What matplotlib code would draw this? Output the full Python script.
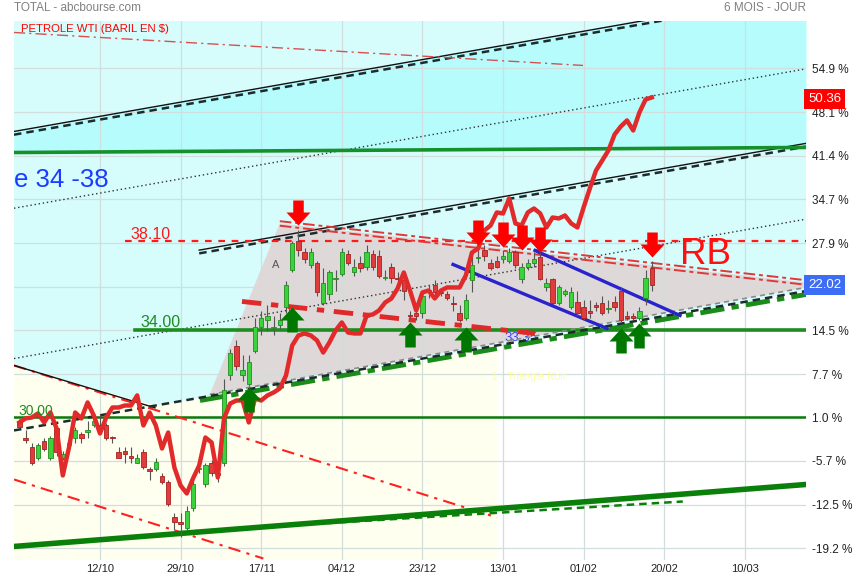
import numpy as np
import matplotlib
matplotlib.use('Agg')
import matplotlib.pyplot as plt
from matplotlib.path import Path
from matplotlib.markers import MarkerStyle
import matplotlib.transforms as mtransforms

plt.rcParams['font.family'] = ['Liberation Sans', 'DejaVu Sans']

# ---- data : % change, one candle per trading day ----
days = np.arange(1, 104)
opens = [0.5, -2.2, -3.6, -5.2, -2.6, -5.3, -0.7, -5.3, -3.3, -2.1,
         -1.6, -1.2, -0.2, -0.2, -0.2, -2.0, -4.4, -4.2, -4.9, -6.0,
         -4.3, -7.1, -7.0, -8.0, -9.0, -14.3, -15.2, -16.1, -12.9, -7.0,
         -9.3, -6.1, -7.5, -6.0, 7.5, 12.1, 7.5, 6.2, 11.3, 14.9,
         16.1, 14.8, 15.2, 18.0, 23.8, 28.3, 26.5, 24.6, 24.8, 18.6,
         20.1, 22.3, 23.2, 26.3, 23.4, 24.9, 24.3, 26.2, 26.0, 22.5,
         24.2, 22.5, 22.2, 16.8, 17.2, 17.1, 20.5, 21.4, 20.4, 20.1,
         18.6, 17.2, 16.3, 22.2, 25.6, 26.9, 24.8, 25.2, 25.5, 25.1,
         26.5, 22.3, 24.3, 24.8, 25.7, 21.1, 22.3, 18.6, 20.1, 18.1,
         18.9, 18.0, 17.5, 18.3, 18.6, 17.7, 18.9, 20.6, 16.7, 16.7,
         16.4, 19.5, 24.0]
highs = [0.8, -1.0, -3.0, -3.0, -2.1, -1.8, -0.5, -4.1, -2.6, -0.5,
         -1.3, 0.5, 0.8, 1.6, 0.1, -1.8, -3.6, -3.6, -3.5, -4.6,
         -3.9, -6.7, -5.3, -7.6, -8.7, -13.8, -13.7, -12.6, -8.7, -6.2,
         -6.0, -5.6, -6.4, 6.9, 11.5, 12.9, 10.6, 10.6, 16.3, 17.5,
         18.3, 16.7, 17.2, 22.1, 28.3, 29.9, 27.1, 27.1, 25.2, 24.0,
         23.7, 23.7, 27.1, 26.8, 25.5, 26.0, 27.6, 26.8, 26.8, 23.7,
         24.9, 23.4, 22.9, 17.5, 18.3, 20.6, 21.4, 22.2, 20.9, 20.6,
         19.8, 18.3, 20.1, 26.0, 26.8, 27.6, 25.5, 26.0, 26.8, 27.1,
         26.8, 24.9, 25.5, 26.5, 26.5, 22.5, 22.6, 21.5, 20.8, 21.1,
         20.6, 19.1, 19.1, 18.8, 19.8, 19.1, 19.8, 21.1, 17.5, 17.2,
         18.0, 23.7, 25.2]
lows = [-0.7, -2.9, -6.4, -5.6, -4.1, -5.6, -4.9, -5.6, -3.6, -3.0,
        -2.9, -2.1, -0.5, -1.5, -2.4, -2.9, -5.3, -6.1, -6.1, -6.1,
        -7.0, -8.7, -7.2, -9.2, -12.6, -16.4, -17.5, -16.4, -13.4, -7.6,
        -9.8, -8.0, -9.0, -6.5, 6.8, 8.3, 6.7, 5.9, 11.0, 13.7,
        14.4, 13.7, 14.7, 17.2, 23.4, 26.0, 24.9, 24.0, 19.8, 18.3,
        19.1, 20.6, 22.9, 24.5, 22.9, 23.4, 23.7, 23.7, 22.5, 22.2,
        21.8, 21.4, 19.1, 16.3, 16.0, 16.3, 19.5, 19.7, 19.7, 19.1,
        17.5, 15.7, 16.0, 20.3, 24.9, 25.2, 23.7, 24.0, 24.9, 24.8,
        24.0, 21.8, 23.7, 24.3, 22.2, 20.6, 18.3, 18.3, 19.7, 17.8,
        16.6, 16.0, 16.3, 17.5, 16.8, 17.2, 17.5, 15.7, 16.0, 16.1,
        16.0, 18.3, 20.6]
closes = [-0.4, -2.5, -6.0, -3.3, -3.8, -2.1, -4.4, -4.6, -3.0, -0.9,
          -2.1, -0.9, 0.5, -1.0, -2.1, -2.2, -5.2, -4.6, -5.2, -5.2,
          -6.7, -7.2, -5.8, -9.0, -12.3, -15.2, -15.5, -13.4, -9.2, -6.8,
          -6.3, -7.6, -7.9, 5.2, 11.0, 9.0, 8.3, 9.6, 15.0, 16.3,
          16.7, 15.0, 16.0, 21.4, 27.9, 26.8, 25.5, 26.6, 20.3, 21.8,
          23.4, 22.5, 26.6, 24.9, 24.2, 24.0, 26.6, 24.3, 22.8, 22.7,
          22.6, 22.4, 20.6, 16.6, 16.7, 19.8, 20.7, 20.3, 20.2, 19.5,
          18.5, 16.1, 19.2, 24.5, 25.7, 25.9, 24.0, 24.3, 25.9, 26.5,
          24.5, 24.3, 24.8, 25.5, 22.3, 21.7, 18.6, 21.1, 20.5, 20.3,
          17.1, 16.4, 17.1, 18.0, 17.2, 17.8, 18.0, 16.1, 16.4, 16.4,
          17.5, 22.6, 21.5]
# petrole WTI, same scale
wti = [0.23, 0.85, 1.0, 1.62, 0.23, 1.77, -0.70, -7.95, -3.63, 1.77,
       0.85, 3.32, 1.31, -1.47, 1.0, 2.54, 2.54, 2.85, 2.85, 4.40,
       -0.23, 1.77, -0.23, -3.79, -1.32, -6.72, -9.50, -10.73, -8.42, -6.41,
       -2.09, -2.86, -8.26, 0.85, 3.16, 3.62, 3.62, 0.23, 3.93, 3.62,
       4.40, 4.86, 5.48, 7.48, 12.11, 13.66, 13.97, 13.66, 12.89, 11.03,
       12.58, 14.43, 15.67, 14.12, 13.97, 13.97, 16.75, 16.90, 17.52, 18.75,
       19.37, 20.91, 23.38, 20.60, 17.52, 20.30, 20.60, 19.37, 20.60, 21.07,
       21.07, 21.07, 22.92, 26.47, 27.09, 29.87, 30.64, 32.65, 32.49, 34.81,
       30.95, 30.64, 32.65, 33.26, 32.49, 30.33, 31.87, 31.72, 32.18, 30.95,
       30.33, 33.42, 36.35, 39.13, 40.67, 42.22, 44.69, 45.92, 46.85, 45.30,
       48.08, 50.09, 50.40]

date_ticks = [14, 27, 40, 53, 66, 79, 92, 105, 118]
date_labels = ['12/10', '29/10', '17/11', '04/12', '23/12', '13/01', '01/02', '20/02', '10/03']
pct_ticks = [54.9, 48.1, 41.4, 34.7, 27.9, 21.2, 14.5, 7.7, 1.0, -5.7, -12.5, -19.2]
hidden_tick = 21.2   # label sits under the last-value tag

x_min, x_max = 0.13, 127.87
y_min, y_max = -21.0, 62.2

# horizontal levels
lvl_3810 = 28.2
lvl_3400 = 14.5
lvl_3000 = 1.0

# regression channel : value at x_min + slope per day
chan_slope = 0.1684
chan_top = 45.15
chan_up = 33.3
chan_mid = 21.8
chan_low = 10.1
chan_bot = -1.0

# trend lines (x0, y0, x1, y1)
wti_trend = (0.13, 60.43, 91.9, 55.34)
green_top = (0.13, 41.9, 127.87, 42.68)
tri_top = (43.0, 30.95, 127.87, 21.84)
tri_bot = (31.7, 4.55, 127.87, 21.07)
tri_inner = (36.9, 18.91, 84.16, 13.97)
tri_support = (30.13, 3.62, 127.87, 19.99)
blue1 = (70.94, 24.62, 95.77, 14.74)
blue2 = (84.16, 26.78, 107.55, 16.75)
down_hi = (0.13, 9.03, 78.03, -14.44)
down_lo = (0.13, -8.57, 40.35, -20.77)
base_green = (0.13, -18.91, 127.87, -9.34)
base_dash = (28.52, -16.6, 108.0, -11.97)

red_arrow_days = [46, 75, 79, 82, 85, 103]
red_arrow_tips = [30.7, 27.6, 27.3, 26.8, 26.5, 25.7]
green_arrow_days = [38, 45, 64, 73, 98, 101]
green_arrow_tips = [5.7, 18.0, 15.7, 14.9, 14.8, 15.6]

last_wti = 50.36
last_total = 22.02
tag_wti_y = 50.2
tag_total_y = 21.5


def chan(off, x):
    return off + chan_slope * (np.asarray(x) - x_min)


def seg(ax, ln, **kw):
    ax.plot([ln[0], ln[2]], [ln[1], ln[3]], **kw)


fig = plt.figure(figsize=(8.55, 5.8), dpi=100)
ax = fig.add_axes([14 / 855, 20 / 580, 792 / 855, 539 / 580])
ax.set_xlim(x_min, x_max)
ax.set_ylim(y_min, y_max)
ax.set_facecolor('white')
for s in ax.spines.values():
    s.set_visible(False)

# background zones
ax.fill_between([x_min, 78.03], y_min - 5, y_max + 5, color='#fffff0', lw=0, zorder=0.2)
xc = [x_min, x_max, x_max, 22.87, x_min]
yc = [y_max + 5, y_max + 5, chan(chan_bot, x_max), chan(chan_bot, 22.87), down_hi[1]]
ax.fill(xc, yc, color='#d6fcfc', lw=0, zorder=0.3)
xs = np.linspace(x_min, x_max, 50)
g_line = np.interp(xs, [green_top[0], green_top[2]], [green_top[1], green_top[3]])
ax.fill_between(xs, g_line, chan(chan_top, xs), color='#b6fcfc', lw=0, zorder=0.4)
tri_x = [tri_bot[0], tri_top[0], tri_top[2], tri_bot[2]]
tri_y = [tri_bot[1], tri_top[1], tri_top[3], tri_bot[3]]
ax.fill(tri_x, tri_y, color='#ded8d8', lw=0, zorder=0.5)

# grid
ax.set_xticks(date_ticks)
ax.set_xticklabels(date_labels)
ax.set_yticks(pct_ticks)
ax.set_yticklabels(['' if v == hidden_tick else '%.1f %%' % v for v in pct_ticks])
ax.yaxis.tick_right()
ax.tick_params(axis='both', length=0, labelsize=8.5, labelcolor='#222222')
ax.tick_params(axis='x', pad=3, labelsize=8)
ax.tick_params(axis='y', pad=4)
ax.grid(True, color='#d0dede', lw=0.9)

# regression channel
ax.plot([x_min, x_max], chan(chan_top, [x_min, x_max]), color='#111111', lw=1, zorder=3)
ax.plot([x_min, x_max], chan(chan_top - 0.5, [x_min, x_max]), color='#1c2c2c', lw=1.8,
        dashes=(3, 2), zorder=3)
ax.plot([30, x_max], chan(chan_mid, [30, x_max]), color='#111111', lw=1, zorder=3)
ax.plot([30, x_max], chan(chan_mid - 0.5, [30, x_max]), color='#1c2c2c', lw=1.8,
        dashes=(3, 2), zorder=3)
for off in (chan_up, chan_low):
    ax.plot([x_min, x_max], chan(off, [x_min, x_max]), color='#333333', lw=1,
            dashes=(1, 2), zorder=3)
ax.plot([x_min, x_max], chan(chan_bot, [x_min, x_max]), color='#1c2c2c', lw=1.8,
        dashes=(3, 2), zorder=3.2)

# horizontal levels
ax.plot([18.0, x_max], [lvl_3810, lvl_3810], color='#ff1a1a', lw=1.6, dashes=(3, 3), zorder=3)
ax.plot([19.6, x_max], [lvl_3400, lvl_3400], color='#1e8c1e', lw=2.6, zorder=3)
ax.plot([x_min, x_max], [lvl_3000, lvl_3000], color='#0a7a0a', lw=1.8, zorder=3)

# trend lines
seg(ax, wti_trend, color='#d85050', lw=1, dashes=(8, 3, 1.5, 3), zorder=3)
seg(ax, green_top, color='#15902a', lw=2.6, zorder=3)
seg(ax, down_hi, color='#ff2020', lw=1.5, dashes=(6, 3, 1.5, 3), zorder=3)
ax.plot([down_hi[0], 22.87], [down_hi[1], 2.5], color='#111111', lw=1, zorder=3.1)
seg(ax, down_lo, color='#ff2020', lw=1.5, dashes=(6, 3, 1.5, 3), zorder=3)
seg(ax, base_green, color='#0a800a', lw=4, zorder=3)
seg(ax, base_dash, color='#0a800a', lw=1.8, dashes=(3, 2), zorder=3)
seg(ax, tri_bot, color='#8a8a8a', lw=1.2, dashes=(3, 2.5), zorder=3)
seg(ax, tri_support, color='#1a8c1a', lw=3.5, dashes=(5, 1.5, 1.5, 1.5), zorder=3.1)
for d in (-0.35, 0.35):
    ax.plot([tri_top[0], tri_top[2]], [tri_top[1] + d, tri_top[3] + d], color='#e03838',
            lw=1.4, dashes=(6, 2, 2, 2), zorder=3)
seg(ax, tri_inner, color='#e02a2a', lw=3.5, dashes=(4, 2, 1.5, 2), zorder=3)
seg(ax, blue1, color='#2a22cc', lw=2.4, zorder=4)
seg(ax, blue2, color='#2a22cc', lw=2.4, zorder=4)

# candles
o = np.array(opens)
c = np.array(closes)
up = c >= o
ax.vlines(days, lows, highs, color='#555555', lw=0.8, zorder=5)
body = np.maximum(np.abs(c - o), 0.2)
bot = np.minimum(o, c)
ax.bar(days[up], body[up], bottom=bot[up], width=0.72, color='#3cd23c',
       edgecolor='#1f8f1f', lw=0.6, zorder=6)
ax.bar(days[~up], body[~up], bottom=bot[~up], width=0.72, color='#e03c3c',
       edgecolor='#a82020', lw=0.6, zorder=6)

# petrole WTI
ax.plot(days, wti, color='#e22a2a', lw=3.2, zorder=7)

# arrows
down_path = Path([(0, 0), (-0.48, 0.52), (-0.21, 0.52), (-0.21, 1), (0.21, 1),
                  (0.21, 0.52), (0.48, 0.52), (0, 0)],
                 [Path.MOVETO] + [Path.LINETO] * 6 + [Path.CLOSEPOLY])
up_path = Path(down_path.vertices * [1, -1], down_path.codes)
ax.plot(red_arrow_days, red_arrow_tips, ls='none', marker=MarkerStyle(down_path),
        ms=36, mfc='#ff0000', mec='none', zorder=9)
ax.plot(green_arrow_days, green_arrow_tips, ls='none', marker=MarkerStyle(up_path),
        ms=36, mfc='#007800', mec='none', zorder=9)

# texts
ax.text(1.2, 61.0, 'PETROLE WTI (BARIL EN $)', color='#ff0000', fontsize=8.2,
        va='center', zorder=10)
ax.text(0.2, 37.65, 'e 34 -38', color='#1a3cff', fontsize=18.5, ha='left',
        va='center', zorder=10)
ax.text(18.84, 29.3, '38.10', color='#ff1a1a', fontsize=11.5, va='center', zorder=10)
ax.text(20.45, 15.6, '34.00', color='#1e8c1e', fontsize=11.5, va='center', zorder=10)
ax.text(0.77, 2.0, '30.00', color='#1e8c1e', fontsize=10, va='center', zorder=10)
ax.text(107.55, 26.2, 'RB', color='#ff1010', fontsize=26.5, va='center', zorder=10)
ax.text(42.4, 24.5, 'A', color='#555555', fontsize=8, va='center', ha='center', zorder=10)
ax.text(79.3, 13.25, '33.35', color='#3c3cff', fontsize=9.5, va='center', zorder=2.9)
ax.text(77.2, 7.2, '1 - Triangle Noir', color='#ffff99', fontsize=7.5, va='center', zorder=10)

trans = mtransforms.blended_transform_factory(ax.transAxes, ax.transData)
ax.text(1.003, tag_wti_y, '%.2f' % last_wti, transform=trans, color='white', fontsize=9.5,
        va='center', ha='left', clip_on=False, zorder=20,
        bbox=dict(boxstyle='square,pad=0.3', fc='#ff0000', ec='none'))
ax.text(1.003, tag_total_y, '%.2f' % last_total, transform=trans, color='white', fontsize=9.5,
        va='center', ha='left', clip_on=False, zorder=20,
        bbox=dict(boxstyle='square,pad=0.3', fc='#3d6cf5', ec='none'))

fig.text(14 / 855, 1 - 8 / 580, 'TOTAL - abcbourse.com', color='#808080', fontsize=8.5,
         va='center', ha='left')
fig.text(806 / 855, 1 - 8 / 580, '6 MOIS - JOUR', color='#808080', fontsize=8.5,
         va='center', ha='right')

fig.savefig('out.png', dpi=100)
